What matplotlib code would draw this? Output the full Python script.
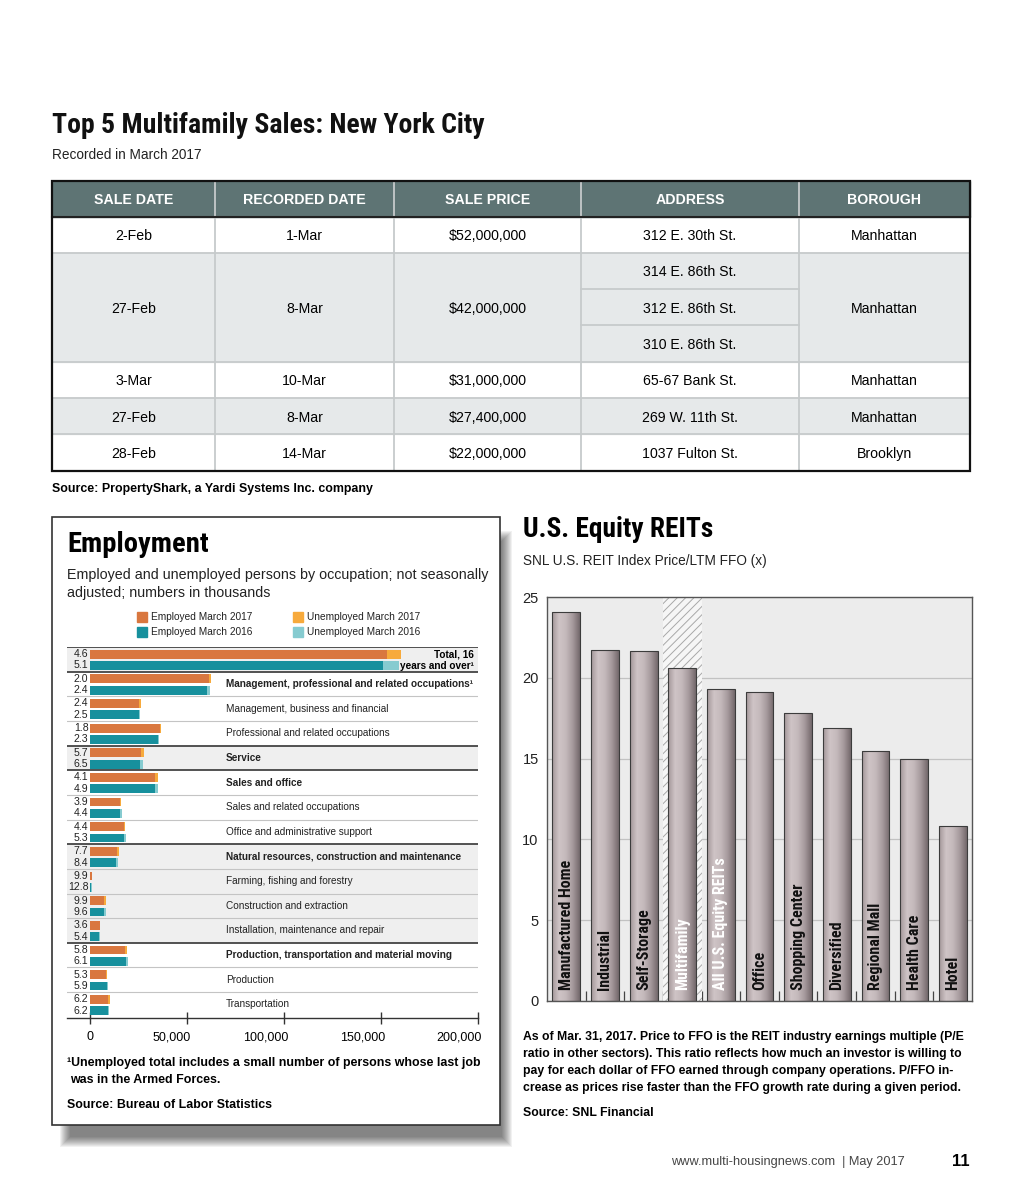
import numpy as np
import matplotlib
matplotlib.use("Agg")
import matplotlib.pyplot as plt
from matplotlib import font_manager
from matplotlib.font_manager import FontProperties
from matplotlib.patches import Rectangle
from matplotlib.colors import LinearSegmentedColormap
import matplotlib.transforms as mtransforms

# ---------------------------
# 1. Data
# ---------------------------
table_headers = ["SALE DATE", "RECORDED DATE", "SALE PRICE", "ADDRESS", "BOROUGH"]
sale_dates = ["2-Feb", "27-Feb", "3-Mar", "27-Feb", "28-Feb"]
recorded_dates = ["1-Mar", "8-Mar", "10-Mar", "8-Mar", "14-Mar"]
sale_prices = ["$52,000,000", "$42,000,000", "$31,000,000", "$27,400,000", "$22,000,000"]
addresses = [["312 E. 30th St."],
             ["314 E. 86th St.", "312 E. 86th St.", "310 E. 86th St."],
             ["65-67 Bank St."], ["269 W. 11th St."], ["1037 Fulton St."]]
boroughs = ["Manhattan", "Manhattan", "Manhattan", "Manhattan", "Brooklyn"]

occupations = ["Total, 16 years and over",
               "Management, professional and related occupations\u00b9",
               "Management, business and financial",
               "Professional and related occupations",
               "Service",
               "Sales and office",
               "Sales and related occupations",
               "Office and administrative support",
               "Natural resources, construction and maintenance",
               "Farming, fishing and forestry",
               "Construction and extraction",
               "Installation, maintenance and repair",
               "Production, transportation and material moving",
               "Production",
               "Transportation"]
is_group = [True, True, False, False, True, True, False, False, True, False, False, False, True, False, False]
employed_2017 = [152900, 61200, 25500, 35900, 26400, 33600, 15500, 17400, 14000, 860, 7400, 5200, 17900, 8100, 9500]
unemployed_2017 = [7400, 1250, 630, 660, 1600, 1440, 630, 800, 1170, 95, 810, 190, 1100, 450, 630]
employed_2016 = [151000, 60300, 25200, 35000, 25700, 33300, 15700, 17600, 13450, 700, 7400, 4800, 18300, 8600, 9100]
unemployed_2016 = [8100, 1500, 650, 820, 1790, 1700, 720, 985, 1230, 100, 790, 275, 1190, 540, 600]
rate_2017 = ["4.6", "2.0", "2.4", "1.8", "5.7", "4.1", "3.9", "4.4", "7.7", "9.9", "9.9", "3.6", "5.8", "5.3", "6.2"]
rate_2016 = ["5.1", "2.4", "2.5", "2.3", "6.5", "4.9", "4.4", "5.3", "8.4", "12.8", "9.6", "5.4", "6.1", "5.9", "6.2"]
emp_ticks = [0, 50000, 100000, 150000, 200000]

reit_sectors = ["Manufactured Home", "Industrial", "Self-Storage", "Multifamily",
                "All U.S. Equity REITs", "Office", "Shopping Center", "Diversified",
                "Regional Mall", "Health Care", "Hotel"]
reit_pffo = [24.1, 21.7, 21.65, 20.6, 19.3, 19.1, 17.8, 16.9, 15.5, 15.0, 10.8]

# ---------------------------
# 2. Fonts & figure
# ---------------------------
names = {f.name for f in font_manager.fontManager.ttflist}
BODY = "Liberation Sans" if "Liberation Sans" in names else "DejaVu Sans"
plt.rcParams["font.family"] = [BODY, "DejaVu Sans"]
plt.rcParams["hatch.linewidth"] = 0.7

# headline face: a condensed bold grotesque, first one found in this order
wanted = ["Liberation Sans Narrow", "Roboto Condensed", "Nimbus Sans Narrow", "Archivo Narrow",
          "IBM Plex Sans Condensed", "Fira Sans Condensed", "PT Sans Narrow", "Barlow Semi Condensed",
          "Cabin Condensed", "Asap Condensed", "DejaVu Sans"]
narrow_file = None
for want in wanted:
    for f in font_manager.fontManager.ttflist:
        if f.name != want or f.style != "normal" or "[" in f.fname:
            continue
        if f.weight not in (700, "bold"):
            continue
        if want == "DejaVu Sans" and "Condensed" not in f.fname:
            continue
        narrow_file = f.fname
        break
    if narrow_file:
        break


def narrow(size):
    if narrow_file:
        return FontProperties(fname=narrow_file, size=size)
    return FontProperties(family=BODY, weight="bold", size=size * 0.8)


W, H = 1024, 1195
fig = plt.figure(figsize=(W / 100, H / 100), dpi=100)
fig.patch.set_facecolor("white")

page = fig.add_axes([0, 0, 1, 1], zorder=0)
page.set_xlim(0, W)
page.set_ylim(H, 0)
page.axis("off")


def px_axes(l, t, r, b, z=2):
    return fig.add_axes([l / W, 1 - b / H, (r - l) / W, (b - t) / H], zorder=z)


# ---------------------------
# 3. Sales table
# ---------------------------
page.text(52, 125, "Top 5 Multifamily Sales: New York City", fontproperties=narrow(20),
          va="center", color="#111")
page.text(52, 155, "Recorded in March 2017", fontsize=9.8, va="center", color="#222")

col_x = [52, 215, 394, 581, 799, 970]
head_top, head_bot = 181, 216.5
sub_h = 36.3
page.add_patch(Rectangle((52, head_top), 918, head_bot - head_top, color="#5e7474", zorder=1))
for c, h in enumerate(table_headers):
    page.text((col_x[c] + col_x[c + 1]) / 2, (head_top + head_bot) / 2 + 1, h, color="white",
              fontsize=10.2, fontweight="bold", ha="center", va="center", zorder=3)

y = head_bot
row_cols = [sale_dates, recorded_dates, sale_prices]
for r in range(len(sale_dates)):
    n = len(addresses[r])
    rh = n * sub_h
    if r % 2 == 1:
        page.add_patch(Rectangle((52, y), 918, rh, color="#e6e9ea", zorder=1))
    mid = y + rh / 2 + 1.5
    for c, col in enumerate(row_cols):
        page.text((col_x[c] + col_x[c + 1]) / 2, mid, col[r], fontsize=10.2, ha="center", va="center", zorder=3)
    page.text((col_x[4] + col_x[5]) / 2, mid, boroughs[r], fontsize=10.2, ha="center", va="center", zorder=3)
    for k, a in enumerate(addresses[r]):
        page.text((col_x[3] + col_x[4]) / 2, y + sub_h * (k + 0.5) + 1.5, a, fontsize=10.2,
                  ha="center", va="center", zorder=3)
        if k > 0:
            page.plot([col_x[3], col_x[4]], [y + sub_h * k] * 2, color="#c6cacb", lw=1.3, zorder=2)
    y += rh
    if r < len(sale_dates) - 1:
        page.plot([52, 970], [y, y], color="#c6cacb", lw=1.3, zorder=2)
for xc in col_x[1:-1]:
    page.plot([xc, xc], [head_top, y], color="#c6cacb", lw=1.3, zorder=2)
page.plot([52, 970], [head_bot, head_bot], color="#222", lw=1.5, zorder=2)
page.add_patch(Rectangle((52, head_top), 918, y - head_top, fill=False, ec="#111", lw=1.6, zorder=4))

page.text(52, 489, "Source: PropertyShark, a Yardi Systems Inc. company", fontsize=8.9,
          fontweight="bold", va="center")

# ---------------------------
# 4. Employment box
# ---------------------------
for s in np.linspace(0, 10, 11):
    page.add_patch(Rectangle((60 + s, 531 + s), 452 - 2 * s, 616 - 2 * s, color="black",
                             alpha=0.055, lw=0, zorder=1))
page.add_patch(Rectangle((52, 517), 448, 608, facecolor="white", edgecolor="#333", lw=1.2, zorder=2))

page.text(67, 544, "Employment", fontproperties=narrow(20.5), va="center", zorder=3)
page.text(67, 575, "Employed and unemployed persons by occupation; not seasonally", fontsize=10.3,
          va="center", zorder=3, color="#222")
page.text(67, 593, "adjusted; numbers in thousands", fontsize=10.3, va="center", zorder=3, color="#222")

c_emp17, c_unemp17 = "#d9773f", "#f7aa3c"
c_emp16, c_unemp16 = "#17909d", "#86cbd0"
legend_items = [(137, 617, c_emp17, "Employed March 2017"), (137, 632, c_emp16, "Employed March 2016"),
                (293, 617, c_unemp17, "Unemployed March 2017"), (293, 632, c_unemp16, "Unemployed March 2016")]
for lx, ly, lc, lt in legend_items:
    page.add_patch(Rectangle((lx, ly - 5), 9.5, 10, color=lc, zorder=3))
    page.text(lx + 14, ly, lt, fontsize=7.3, va="center", zorder=3, color="#222")

ax = px_axes(67, 647, 478, 1018, z=3)
ax.patch.set_alpha(0)
px_per_unit = (478 - 90) / 200000
ax.set_xlim(-(90 - 67) / px_per_unit, 200000)
n = len(occupations)
ax.set_ylim(n + 0.05, 0)

yy = np.arange(n)
shade_rows = [0, 4, 8, 9, 10, 11]
for i in shade_rows:
    ax.axhspan(i, i + 1, color="#efefef", lw=0, zorder=0)

bh = 0.36
ax.barh(yy + 0.29, employed_2017, height=bh, color=c_emp17, zorder=2)
ax.barh(yy + 0.29, unemployed_2017, left=employed_2017, height=bh, color=c_unemp17, zorder=2)
ax.barh(yy + 0.75, employed_2016, height=bh, color=c_emp16, zorder=2)
ax.barh(yy + 0.75, unemployed_2016, left=employed_2016, height=bh, color=c_unemp16, zorder=2)

dark_lines = [0, 1, 4, 5, 8, 12]
for i in range(n):
    if i in dark_lines:
        ax.axhline(i, color="#444", lw=1.3, zorder=3)
    else:
        ax.axhline(i, color="#c4c4c4", lw=0.8, zorder=3)

trans = mtransforms.blended_transform_factory(ax.transAxes, ax.transData)
lx_frac = (226 - 67) / 411
for i in range(n):
    ax.text(0.052, i + 0.29, rate_2017[i], transform=trans, ha="right", va="center", fontsize=7.6, color="#222")
    ax.text(0.052, i + 0.75, rate_2016[i], transform=trans, ha="right", va="center", fontsize=7.6, color="#222")
    if i == 0:
        ax.text(0.99, i + 0.29, "Total, 16", transform=trans, ha="right", va="center",
                fontsize=7.2, fontweight="bold")
        ax.text(0.99, i + 0.76, "years and over\u00b9", transform=trans, ha="right", va="center",
                fontsize=7.2, fontweight="bold")
    else:
        ax.text(lx_frac, i + 0.5, occupations[i], transform=trans, ha="left", va="center",
                fontsize=7.2, fontweight="bold" if is_group[i] else "normal", color="#222")

for sp in ["top", "right", "left"]:
    ax.spines[sp].set_visible(False)
ax.spines["bottom"].set_color("#333")
ax.spines["bottom"].set_linewidth(1.0)
ax.set_yticks([])
ax.set_xticks(emp_ticks)
ax.set_xticklabels([f"{t:,}" for t in emp_ticks])
ax.tick_params(axis="x", direction="inout", length=9, width=1, color="#333", labelsize=9, pad=5)
# labels sit right-aligned just past their tick, as in the print layout
shift = mtransforms.ScaledTranslation(4 / 100, 0, fig.dpi_scale_trans)
for lbl in ax.get_xticklabels()[1:]:
    lbl.set_horizontalalignment("right")
    lbl.set_transform(lbl.get_transform() + shift)

page.text(67, 1063, "\u00b9Unemployed total includes a small number of persons whose last job",
          fontsize=8.9, fontweight="bold", va="center", zorder=3)
page.text(70, 1080, "was in the Armed Forces.", fontsize=8.9, fontweight="bold", va="center", zorder=3)
page.text(67, 1105, "Source: Bureau of Labor Statistics", fontsize=8.9, fontweight="bold", va="center", zorder=3)

# ---------------------------
# 5. REIT chart
# ---------------------------
page.text(523, 529, "U.S. Equity REITs", fontproperties=narrow(19.7), va="center")
page.text(523, 561, "SNL U.S. REIT Index Price/LTM FFO (x)", fontsize=9.8, va="center", color="#222")

rx = px_axes(547, 597, 972, 1001, z=3)
rx.set_facecolor("#ececec")
xs = np.arange(len(reit_sectors))
hi = reit_sectors.index("Multifamily")
rx.axvspan(hi - 0.5, hi + 0.5, facecolor="#f6f6f6", hatch="////", edgecolor="#a8a8a8", lw=0, zorder=1)
rx.yaxis.grid(True, color="#c2c2c2", lw=0.9, zorder=0)
rx.set_axisbelow(True)

bar_cmap = LinearSegmentedColormap.from_list(
    "bar", ["#a39799", "#cfc4c6", "#c4b9bb", "#a5999c", "#74696c"])
grad = np.linspace(0, 1, 64).reshape(1, -1)
bars = rx.bar(xs, reit_pffo, width=0.72, color="none", edgecolor="#3c3c3c", lw=0.8, zorder=3)
for b in bars:
    im = rx.imshow(grad, cmap=bar_cmap, aspect="auto", zorder=2.5,
                   extent=[b.get_x(), b.get_x() + b.get_width(), 0, b.get_height()])
    im.set_clip_path(b)

for i, name in enumerate(reit_sectors):
    white = name in ("Multifamily", "All U.S. Equity REITs")
    rx.text(i, 0.65, name, rotation=90, ha="center", va="bottom", fontproperties=narrow(11.5),
            color="white" if white else "#111", zorder=4)

rx.set_xlim(-0.5, len(reit_sectors) - 0.5)
rx.set_ylim(0, 25)
rx.set_yticks([0, 5, 10, 15, 20, 25])
rx.tick_params(axis="y", length=0, labelsize=10.5, pad=6, labelcolor="#222")
rx.set_xticks([])
rx.set_xticks(xs[:-1] + 0.5, minor=True)
rx.tick_params(axis="x", which="minor", direction="in", length=7, width=0.9, color="#444")
for sp in rx.spines.values():
    sp.set_color("#555")
    sp.set_linewidth(1.0)

reit_notes = ["As of Mar. 31, 2017. Price to FFO is the REIT industry earnings multiple (P/E",
              "ratio in other sectors). This ratio reflects how much an investor is willing to",
              "pay for each dollar of FFO earned through company operations. P/FFO in-",
              "crease as prices rise faster than the FFO growth rate during a given period."]
for k, line in enumerate(reit_notes):
    page.text(523, 1037 + 17 * k, line, fontsize=8.8, fontweight="bold", va="center")
page.text(523, 1113, "Source: SNL Financial", fontsize=8.8, fontweight="bold", va="center")

# ---------------------------
# 6. Footer
# ---------------------------
page.text(905, 1162, "www.multi-housingnews.com  | May 2017", fontsize=9.2, ha="right", va="center", color="#444")
page.text(970, 1161, "11", fontsize=12, fontweight="bold", ha="right", va="center")

fig.savefig("out.png", dpi=100)
